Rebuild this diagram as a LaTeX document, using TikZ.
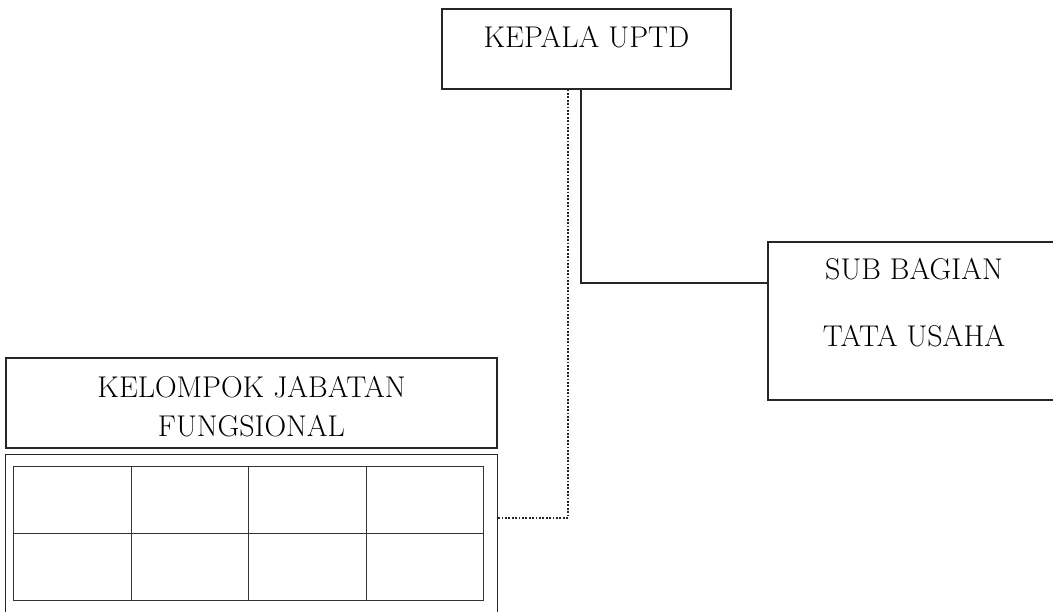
\documentclass[tikz,border=0pt]{standalone}
\usepackage{fontspec}
\usetikzlibrary{positioning}

\begin{document}
\begin{tikzpicture}[x=1pt,y=-1pt,
	unitbox/.style={draw=black!85,line width=1.3pt,inner sep=0pt,align=center,font=\fontsize{30}{38.5}\selectfont},
	gridcell/.style={draw=black!80,line width=1pt,inner sep=0pt,minimum width=117.5pt,minimum height=67pt,anchor=north west},
	solidline/.style={draw=black!85,line width=1.2pt},
	dotline/.style={draw=black!85,line width=1.8pt,dash pattern=on 1.8pt off 1.6pt}]
\useasboundingbox (0,0) rectangle (1053,611);
\node[unitbox,minimum width=289pt,text height=38pt,text depth=42pt,anchor=base] (kepala) at (586.5,47) {KEPALA UPTD};
\node[unitbox,minimum width=292pt,text height=104pt,text depth=54pt,anchor=base] (subbag) at (914,346) {SUB BAGIAN\\[28.5pt]TATA USAHA};
\node[unitbox,minimum width=491pt,text height=78pt,text depth=12pt,anchor=base] (fungsi) at (251.5,436) {KELOMPOK JABATAN\\FUNGSIONAL};
\node[unitbox,minimum width=492pt,minimum height=170pt,anchor=north west] (grid) at (5,454) {};
\foreach \r in {0,1}
	\foreach \c in {0,...,3}
		\node[gridcell] (cell\r\c) at (13+117.5*\c,466+67*\r) {};
\coordinate (solidbend) at (581,283);
\coordinate (dotbend) at (568,518);
\draw[solidline] (kepala.south -| solidbend)--(solidbend)--(solidbend -| subbag.west);
\draw[dotline] (kepala.south -| dotbend)--(dotbend)--(dotbend -| grid.east);
\end{tikzpicture}
\end{document}
